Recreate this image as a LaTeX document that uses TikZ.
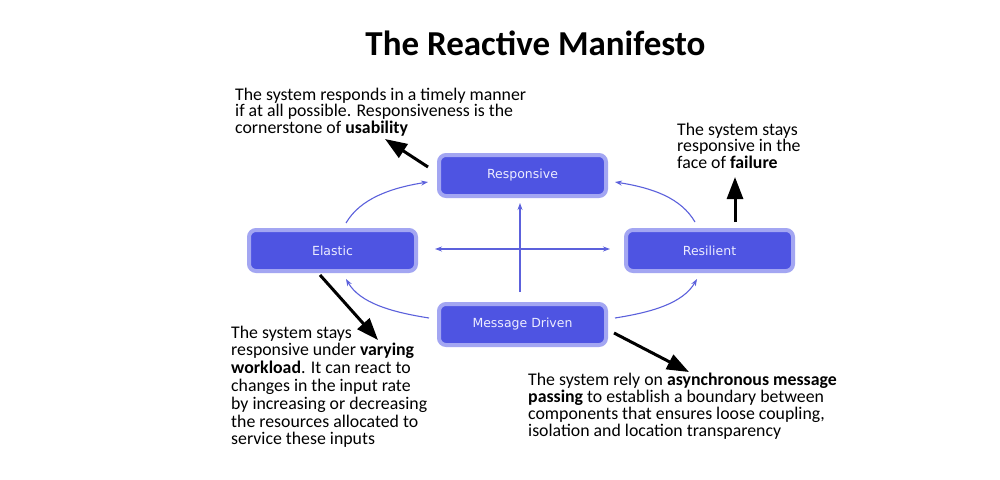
\documentclass[tikz,border=0pt]{standalone}
\usepackage{fontspec}
\setmainfont{Carlito}
\newfontfamily\dvs{DejaVu Sans}
\usetikzlibrary{arrows.meta,calc}
\definecolor{boxfill}{RGB}{78,84,226}
\definecolor{boxedge}{RGB}{163,166,242}
\definecolor{boxtext}{RGB}{236,236,255}
\definecolor{conncol}{RGB}{92,97,220}
\tikzset{
  box/.style={rectangle, rounded corners=7pt, fill=boxfill, draw=boxedge, line width=4pt,
    minimum width=167pt, minimum height=41pt, inner sep=0pt,
    font=\dvs\fontsize{12.5}{14}\selectfont, text=boxtext},
  conn/.style={conncol, line width=1.1pt, -{Stealth[length=7pt,width=5pt]}},
  conn2/.style={conncol, line width=1.1pt, {Stealth[length=7pt,width=5pt]}-{Stealth[length=7pt,width=5pt]}},
  big/.style={black, line width=3pt, -{Triangle[length=22pt,width=16pt]}},
  note/.style={anchor=base west, inner sep=0pt, align=left, text=black}
}
\begin{document}
\begin{tikzpicture}[x=1pt,y=-1pt]
\useasboundingbox (0,0) rectangle (1000,479);
\fill[white] (0,0) rectangle (1000,479);

\node[inner sep=0pt, font=\bfseries\fontsize{35}{40}\selectfont] (title) at (535.5,43) {The Reactive Manifesto};

\node[box] (resp) at (522.5,175.5) {Responsive};
\node[box] (elas) at (332.5,250.5) {Elastic};
\node[box] (resi) at (709.5,250.5) {Resilient};
\node[box] (msg) at (522.5,324.5) {Message Driven};

% anchor base = baseline of the last line
\node[note, font=\fontsize{17.8}{16.7}\selectfont] (n1) at (235,133.4)
  {The system responds in a timely manner\\if at all possible. Responsiveness is the\\cornerstone of \textbf{usability}};
\node[note, font=\fontsize{17.8}{16.7}\selectfont] (n2) at (677,168.4)
  {The system stays\\responsive in the\\face of \textbf{failure}};
\node[note, font=\fontsize{17.8}{17.8}\selectfont] (n3) at (231,444.8)
  {The system stays\\responsive under \textbf{varying}\\\textbf{workload}. It can react to\\changes in the input rate\\by increasing or decreasing\\the resources allocated to\\service these inputs};
\node[note, font=\fontsize{17.8}{17.3}\selectfont] (n4) at (528,436.9)
  {The system rely on \textbf{asynchronous message}\\\textbf{passing} to establish a boundary between\\components that ensures loose coupling,\\isolation and location transparency};

% blue connectors
\draw[conn] ($(elas.north)+(13.5,-5)$) .. controls +(14,-24) and +(-38,6) .. ($(resp.west)+(-9,6.5)$);
\draw[conn] ($(resi.north)+(-14.5,-6)$) .. controls +(-14,-24) and +(38,6) .. ($(resp.east)+(7,6.5)$);
\draw[conn] ($(msg.west)+(-8,-6.5)$) .. controls +(-38,-6) and +(14,24) .. ($(elas.south)+(13.5,6)$);
\draw[conn] ($(msg.east)+(7,-6.5)$) .. controls +(38,-6) and +(-14,24) .. ($(resi.south)+(-12.5,6)$);
\draw[conn] ($(msg.north)+(-2.5,-10)$) -- ($(resp.south)+(-2.5,5)$);
\draw[conn2] ($(elas.east)+(17,-1.5)$) -- ($(resi.west)+(-14,-1.5)$);

% black arrows
\coordinate (t1) at (385,139);
\coordinate (t2) at (735,177);
\coordinate (t3) at (378,340);
\coordinate (t4) at (689,372);
\draw[big] ($(resp.west)+(-9,-8.5)$) -- (t1);
\draw[big] ($(resi.north)+(25.5,-6)$) -- (t2);
\draw[big] ($(elas.south)+(-12.5,2)$) -- (t3);
\draw[big] ($(msg.east)+(6,8.5)$) -- (t4);
\end{tikzpicture}
\end{document}
